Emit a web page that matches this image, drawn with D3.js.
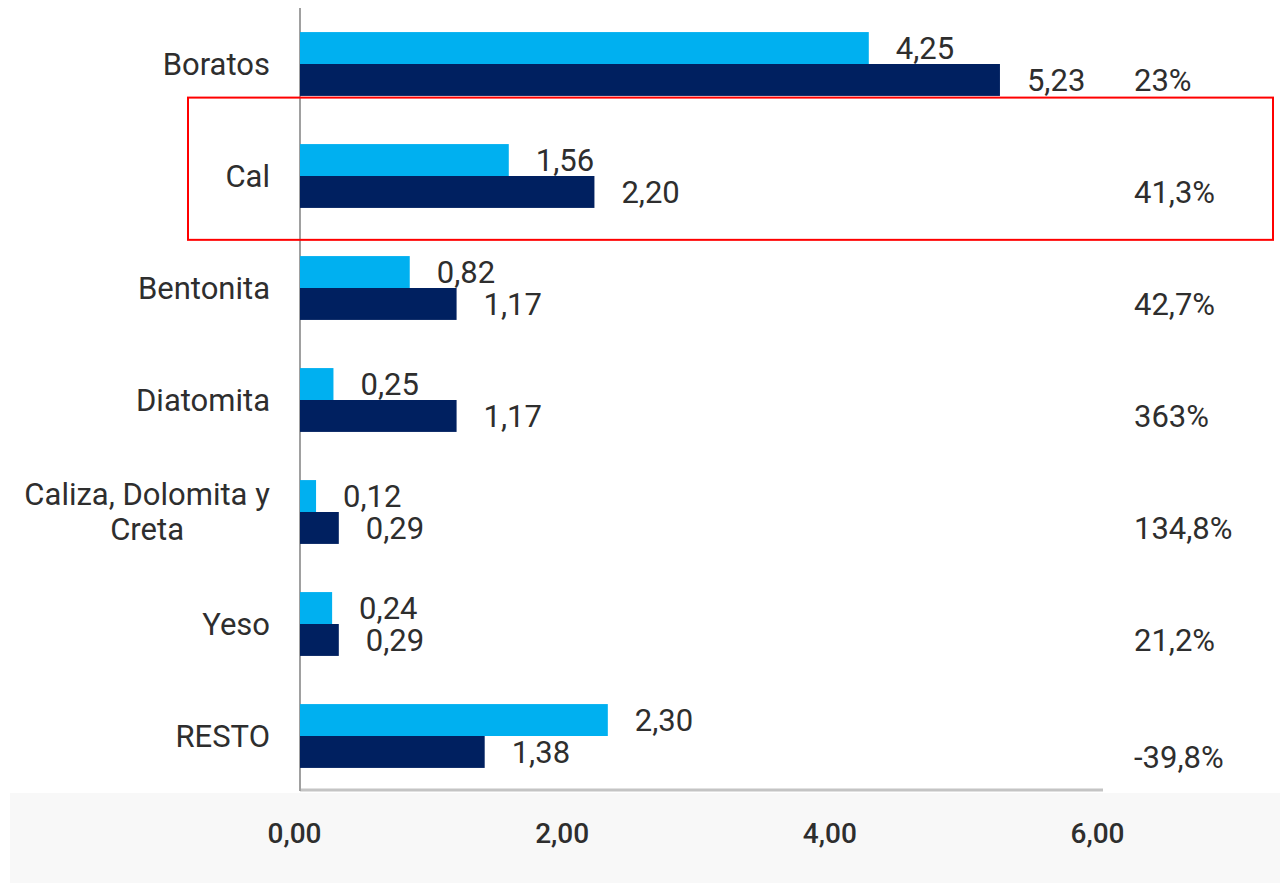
<!DOCTYPE html>
<html>
<head>
<meta charset="utf-8">
<script src="https://cdn.jsdelivr.net/npm/d3@7"></script>
<style>
  body { margin: 0; background: #fff; }
  text { font-family: Roboto, "Noto Sans", sans-serif; fill: #2e2e2e; }
</style>
</head>
<body>
<div id="chart"></div>
<script>
var categories = ["Boratos", "Cal", "Bentonita", "Diatomita", "Caliza, Dolomita y\nCreta", "Yeso", "RESTO"];
var valuesPrev = [4.25, 1.56, 0.82, 0.25, 0.12, 0.24, 2.30];
var valuesCurr = [5.23, 2.20, 1.17, 1.17, 0.29, 0.29, 1.38];
var changeLabels = ["23%", "41,3%", "42,7%", "363%", "134,8%", "21,2%", "-39,8%"];
var xTicks = [0, 2, 4, 6];
var highlighted = "Cal";

var svgWidth = 1287;
var svgHeight = 883;

var svg = d3.select("#chart")
  .append("svg")
  .attr("width", svgWidth)
  .attr("height", svgHeight);

var fmt = d => d.toFixed(2).replace(".", ",");

var data = categories.map((c, i) => ({
  cat: c,
  prev: valuesPrev[i],
  curr: valuesCurr[i],
  change: changeLabels[i]
}));

// scales
var x = d3.scaleLinear()
  .domain([0, 6])
  .range([300, 1103]);

var y0 = d3.scaleBand()
  .domain(categories)
  .range([8, 792])
  .paddingInner(0.43)
  .paddingOuter(0.215);

var y1 = d3.scaleBand()
  .domain(["prev", "curr"])
  .range([0, y0.bandwidth()]);

var colors = { prev: "#00b0f0", curr: "#002060" };

// grey band behind the x axis labels
svg.append("rect")
  .attr("x", 10)
  .attr("y", 793)
  .attr("width", 1270)
  .attr("height", 90)
  .attr("fill", "#f8f8f8");

// axis lines
svg.append("line")
  .attr("x1", x(0)).attr("x2", x(6))
  .attr("y1", 790).attr("y2", 790)
  .attr("stroke", "#c4c4c4")
  .attr("stroke-width", 3);

svg.append("line")
  .attr("x1", x(0)).attr("x2", x(0))
  .attr("y1", 8).attr("y2", 791)
  .attr("stroke", "#a0a0a0")
  .attr("stroke-width", 2);

// x axis tick labels
var xAxis = d3.axisBottom(x)
  .tickValues(xTicks)
  .tickSize(0)
  .tickPadding(0)
  .tickFormat(fmt);

var axisG = svg.append("g")
  .attr("transform", "translate(0, 833)")
  .call(xAxis);
axisG.select(".domain").remove();
axisG.selectAll("text")
  .attr("dx", -6)
  .attr("dy", "0.35em")
  .attr("y", 0)
  .attr("font-size", 28)
  .attr("font-weight", 500)
  .attr("fill", "#2e2e2e");

// bars
var groups = svg.selectAll("g.cat")
  .data(data)
  .enter()
  .append("g")
  .attr("class", "cat")
  .attr("transform", d => `translate(0, ${y0(d.cat)})`);

["prev", "curr"].forEach(key => {
  groups.append("rect")
    .attr("x", x(0))
    .attr("y", y1(key))
    .attr("width", d => x(d[key]) - x(0))
    .attr("height", y1.bandwidth())
    .attr("fill", colors[key]);

  groups.append("text")
    .attr("x", d => x(d[key]) + 27)
    .attr("y", y1(key) + y1.bandwidth() / 2)
    .attr("dy", "0.35em")
    .attr("font-size", 31)
    .text(d => fmt(d[key]));
});

// percentage change column
groups.append("text")
  .attr("x", 1134)
  .attr("y", d => y1("curr") + y1.bandwidth() / 2 + (d.cat === "RESTO" ? 5 : 0))
  .attr("dy", "0.35em")
  .attr("font-size", 31)
  .text(d => d.change);

// category labels (multi-line centred, right edge at 270)
groups.each(function(d) {
  var lines = d.cat.split("\n");
  var g = d3.select(this);
  var lineH = 35;
  var t = g.append("text")
    .attr("font-size", 31)
    .attr("text-anchor", "middle");
  lines.forEach((ln, i) => {
    t.append("tspan")
      .attr("x", 0)
      .attr("y", y0.bandwidth() / 2 + (i - (lines.length - 1) / 2) * lineH)
      .attr("dy", "0.35em")
      .text(ln);
  });
  var w = t.node().getBBox().width;
  t.attr("transform", `translate(${270 - w / 2}, 0)`);
});

// highlight box around the selected category
var cy = y0(highlighted) + y0.bandwidth() / 2;
svg.append("rect")
  .attr("x", 188)
  .attr("y", cy - 0.7 * y0.step())
  .attr("width", 1085)
  .attr("height", 1.27 * y0.step())
  .attr("fill", "none")
  .attr("stroke", "#ff0000")
  .attr("stroke-width", 2);
</script>
</body>
</html>
